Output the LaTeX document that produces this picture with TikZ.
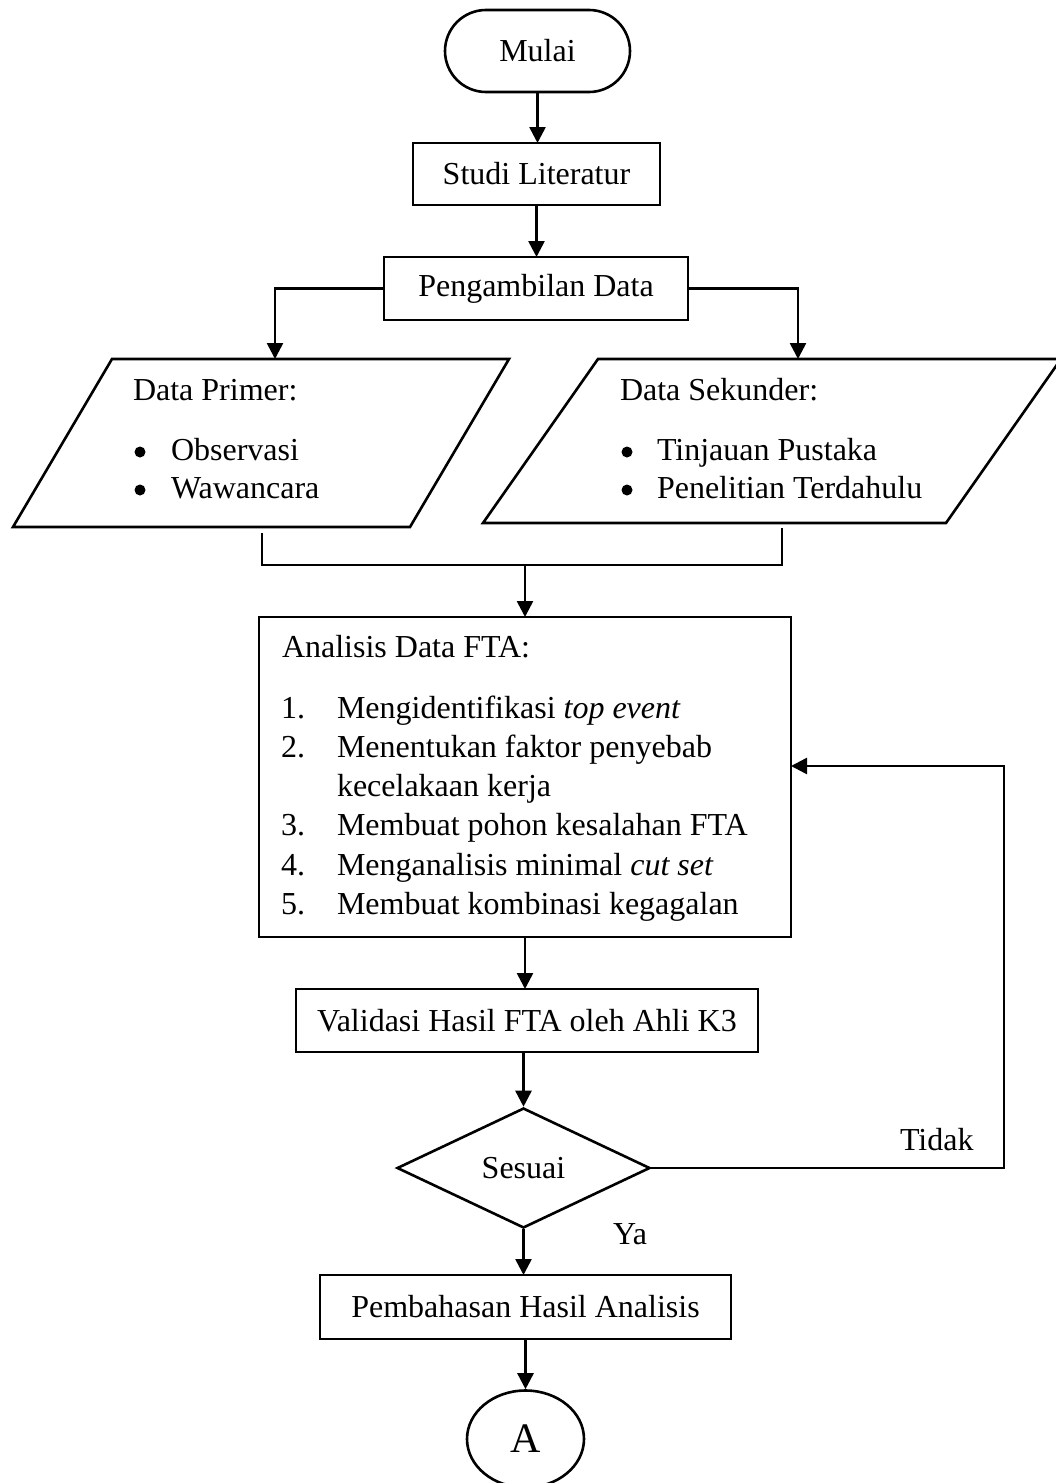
\documentclass[tikz,border=0pt]{standalone}
\usepackage{fontspec}
\setmainfont{Liberation Serif}
\usetikzlibrary{arrows.meta,shapes.geometric,shapes.misc}
\begin{document}
\begin{tikzpicture}[x=1pt,y=-1pt,
  every node/.style={font=\fontsize{32}{39}\selectfont},
  box/.style={draw,line width=2.6pt,rectangle,inner sep=0pt,outer sep=0pt},
  txt/.style={inner sep=0pt,outer sep=0pt,anchor=base west},
  bul/.style={circle,fill,inner sep=0pt,outer sep=0pt,minimum size=11pt},
  line/.style={line width=2.6pt},
  arr/.style={line width=2.6pt,-{Triangle[length=16pt,width=16pt]}}]
\useasboundingbox (0,0) rectangle (1056,1483);
\clip (0,0) rectangle (1056,1483);

% main nodes
\node[draw,line width=2.6pt,rounded rectangle,minimum width=185pt,minimum height=82pt,inner sep=0pt] (mulai) at (537.5,51) {\raisebox{-4pt}{Mulai}};
\node[box,minimum width=247pt,minimum height=62pt] (studi) at (536.5,174) {Studi Literatur};
\node[box,minimum width=304pt,minimum height=63pt] (ambil) at (536,288.5) {Pengambilan Data};

% data parallelograms
\draw[line] (112,359) -- (509,359) -- (410,527) -- (13,527) -- cycle;
\draw[line] (598,359) -- (1061,359) -- (946,523) -- (483,523) -- cycle;
\coordinate (primerTop) at (275,359);
\coordinate (sekunderTop) at (798,359);
\coordinate (primerBot) at (262,533);
\coordinate (sekunderBot) at (782,528);
\coordinate (join) at (525,565);

\node[txt] (primT) at (133,400) {Data Primer:};
\node[bul] (pb1) at (140,452) {};
\node[txt] (pi1) at (171,460) {Observasi};
\node[bul] (pb2) at (140,490) {};
\node[txt] (pi2) at (171,498) {Wawancara};

\node[txt] (sekT) at (620,400) {Data Sekunder:};
\node[bul] (sb1) at (627,452) {};
\node[txt] (si1) at (657,460) {Tinjauan Pustaka};
\node[bul] (sb2) at (627,490) {};
\node[txt] (si2) at (657,498) {Penelitian Terdahulu};

% FTA box
\node[box,minimum width=532pt,minimum height=320pt] (fta) at (525,777) {};
\node[txt] (ftaT) at (282,657) {Analisis Data FTA:};
\node[txt] (n1) at (281,718) {1.};
\node[txt] (t1) at (337,718) {Mengidentifikasi \textit{top event}};
\node[txt] (n2) at (281,757.3) {2.};
\node[txt] (t2) at (337,757.3) {Menentukan faktor penyebab};
\node[txt] (t2b) at (337,796.6) {kecelakaan kerja};
\node[txt] (n3) at (281,835.9) {3.};
\node[txt] (t3) at (337,835.9) {Membuat pohon kesalahan FTA};
\node[txt] (n4) at (281,875.2) {4.};
\node[txt] (t4) at (337,875.2) {Menganalisis minimal \textit{cut set}};
\node[txt] (n5) at (281,914.5) {5.};
\node[txt] (t5) at (337,914.5) {Membuat kombinasi kegagalan};

\node[box,minimum width=462pt,minimum height=63pt] (valid) at (527,1020.5) {Validasi Hasil FTA oleh Ahli K3};
\node[draw,line width=2.6pt,diamond,aspect=2.108,minimum width=253pt,minimum height=120pt,inner sep=0pt] (sesuai) at (523.5,1168) {Sesuai};
\node[box,minimum width=411pt,minimum height=64pt] (pemb) at (525.5,1307) {Pembahasan Hasil Analisis};
\node[draw,line width=2.6pt,ellipse,minimum width=117pt,minimum height=97pt,inner sep=0pt,font=\fontsize{42}{50}\selectfont] (A) at (525.5,1439) {\raisebox{-3pt}{A}};

\node[txt] (tidak) at (900,1150) {Tidak};
\node[txt] (ya) at (613,1244) {Ya};

% connectors
\draw[arr] (mulai.south) -- (mulai.south |- studi.north);
\draw[arr] (studi.south) -- (studi.south |- ambil.north);
\draw[arr] (ambil.west) -| (primerTop);
\draw[arr] (ambil.east) -| (sekunderTop);
\draw[line] (primerBot) |- (join) -| (sekunderBot);
\draw[arr] (join) -- (fta.north);
\draw[arr] (fta.south) -- (fta.south |- valid.north);
\draw[arr] (sesuai.north |- valid.south) -- (sesuai.north);
\draw[arr] (sesuai.south) -- (sesuai.south |- pemb.north);
\draw[arr] (pemb.south) -- (A.north);
\coordinate (back) at (1004,766);
\draw[arr] (sesuai.east) -| (back) -- (back -| fta.east);
\end{tikzpicture}
\end{document}
